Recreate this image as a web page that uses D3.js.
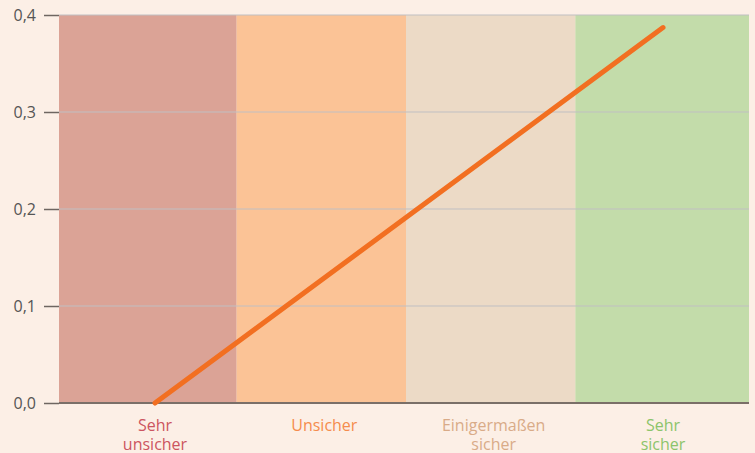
<!DOCTYPE html>
<html>
<head>
<meta charset="utf-8">
<script src="https://cdn.jsdelivr.net/npm/d3@7"></script>
<style>
  body { margin: 0; background: #fcefe6; }
  svg { display: block; font-family: "Open Sans", sans-serif; }
</style>
</head>
<body>
<div id="chart"></div>
<script>
// categories along the x axis (each one can span two lines)
var categories = [["Sehr", "unsicher"], ["Unsicher"], ["Einigermaßen", "sicher"], ["Sehr", "sicher"]];
var bandColors = ["#dba396", "#fbc396", "#ecdac6", "#c3dcaa"];
var labelColors = ["#cc5560", "#f58c4d", "#d9ab88", "#8cc46b"];
var lineValues = [0.0, 0.387];       // line from first to last category
var lineIndex = [0, 3];
var yTicks = [0, 0.1, 0.2, 0.3, 0.4];

var width = 755,
    height = 453,
    plotLeft = 59,
    plotRight = 749,
    plotTop = 15,
    plotBottom = 403;

var svg = d3.select("#chart").append("svg")
    .attr("width", width)
    .attr("height", height);

svg.append("rect")
    .attr("width", width)
    .attr("height", height)
    .attr("fill", "#fcefe6");

var x = d3.scaleLinear().domain([0, 3]).range([155, 663]);
var y = d3.scaleLinear().domain([0, 0.4]).range([plotBottom, plotTop]);

// band edges: about midway between category centres, outer bands run to the plot edge
var edges = categories.map(function(c, i) {
    var x0 = i === 0 ? plotLeft : (x(i - 1) + x(i)) / 2 - 3;
    var x1 = i === categories.length - 1 ? plotRight : (x(i) + x(i + 1)) / 2 - 3;
    return { x0: x0, x1: x1, i: i };
});

svg.selectAll("rect.band")
    .data(edges)
    .enter().append("rect")
    .attr("class", "band")
    .attr("x", function(d) { return d.x0; })
    .attr("width", function(d) { return d.x1 - d.x0; })
    .attr("y", y(0.4))
    .attr("height", y(0) - y(0.4))
    .attr("fill", function(d) { return bandColors[d.i]; });

// grid lines
svg.selectAll("line.grid")
    .data(yTicks.filter(function(t) { return t > 0; }))
    .enter().append("line")
    .attr("class", "grid")
    .attr("x1", plotLeft)
    .attr("x2", plotRight)
    .attr("y1", function(d) { return y(d); })
    .attr("y2", function(d) { return y(d); })
    .attr("stroke", "#c0bfc2")
    .attr("stroke-width", 1);

// y axis
var yAxis = d3.axisLeft(y)
    .tickValues(yTicks)
    .tickSize(15)
    .tickPadding(8)
    .tickFormat(function(d) { return d3.format(".1f")(d).replace(".", ","); });

var gy = svg.append("g")
    .attr("transform", "translate(" + plotLeft + ",0)")
    .call(yAxis);
gy.select(".domain").remove();
gy.selectAll(".tick line").attr("stroke", "#6e6661").attr("stroke-width", 1.5);
gy.selectAll(".tick text")
    .attr("fill", "#555")
    .style("font-size", "16px")
    .style("font-family", "'Open Sans', sans-serif");

// baseline
svg.append("line")
    .attr("x1", plotLeft)
    .attr("x2", plotRight)
    .attr("y1", y(0))
    .attr("y2", y(0))
    .attr("stroke", "#7a6f68")
    .attr("stroke-width", 2);

// category labels
var labels = svg.selectAll("text.cat")
    .data(categories)
    .enter().append("text")
    .attr("class", "cat")
    .attr("text-anchor", "middle")
    .attr("fill", function(d, i) { return labelColors[i]; })
    .style("font-size", "16px");

labels.selectAll("tspan")
    .data(function(d, i) { return d.map(function(s) { return { s: s, i: i }; }); })
    .enter().append("tspan")
    .attr("x", function(d) { return x(d.i); })
    .attr("y", function(d, j) { return 431 + j * 19; })
    .text(function(d) { return d.s; });

// line
var line = d3.line()
    .x(function(d) { return x(d[0]); })
    .y(function(d) { return y(d[1]); });

svg.append("path")
    .datum(lineIndex.map(function(k, i) { return [k, lineValues[i]]; }))
    .attr("d", line)
    .attr("fill", "none")
    .attr("stroke", "#f26f21")
    .attr("stroke-width", 5)
    .attr("stroke-linecap", "round");
</script>
</body>
</html>
